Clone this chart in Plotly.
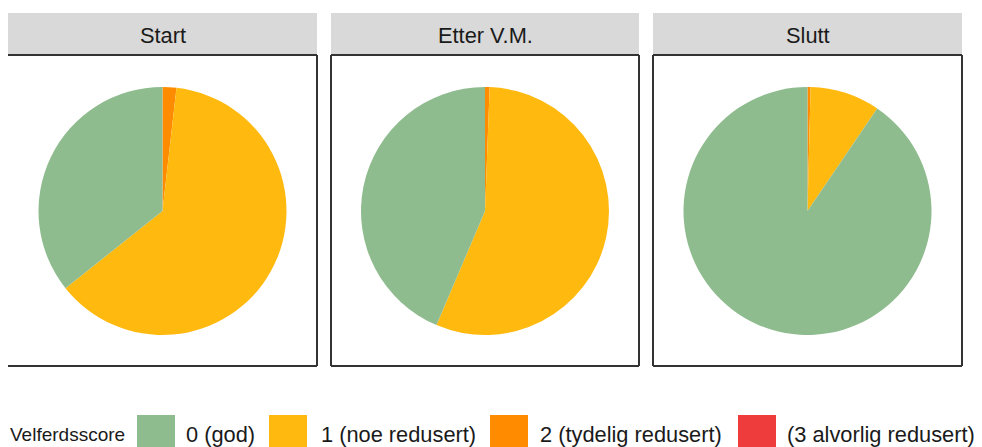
import plotly.graph_objects as go

W, H = 982, 447
OFF = 8  # page body margin: figure is drawn 8px right/down of the window origin

panels = ["Start", "Etter V.M.", "Slutt"]
categories = ["0 (god)", "1 (noe redusert)", "2 (tydelig redusert)", "(3 alvorlig redusert)"]
colors = ["#8FBC8F", "#FFB90F", "#FF8C00", "#EE3B3B"]
legend_title = "Velferdsscore"

# percentage share per welfare score, per panel (order follows categories)
start_vals = [35.7, 62.5, 1.8, 0.0]
etter_vals = [43.6, 55.8, 0.6, 0.0]
slutt_vals = [90.5, 9.1, 0.4, 0.0]
panel_vals = [start_vals, etter_vals, slutt_vals]

# layout in screen pixels
panel_x = [(8, 317), (331, 639), (653, 962)]
strip_top, strip_bot = 13, 55
panel_bot = 366
radius = 124
cy = 211

def px(x):
    return (x - OFF) / W

def py(y):
    return 1 - (y - OFF) / H

fig = go.Figure()
shapes = []
annotations = []
font_family = "Liberation Sans, Arial, sans-serif"
text_color = "#1A1A1A"
fs = 21.8

for i, (name, vals) in enumerate(zip(panels, panel_vals)):
    x0, x1 = panel_x[i]
    cx = (x0 + x1) / 2
    # slices drawn clockwise from 12 o'clock, highest score first
    order = list(range(len(categories)))[::-1]
    fig.add_trace(go.Pie(
        labels=[categories[k] for k in order],
        values=[vals[k] for k in order],
        marker=dict(colors=[colors[k] for k in order], line=dict(width=0)),
        sort=False,
        direction="clockwise",
        rotation=0,
        textinfo="none",
        showlegend=False,
        hovertemplate="%{label}: %{value}%<extra>" + name + "</extra>",
        domain=dict(x=[px(cx - radius), px(cx + radius)], y=[py(cy + radius), py(cy - radius)]),
    ))
    # strip
    shapes.append(dict(type="rect", xref="paper", yref="paper",
                       x0=px(x0), x1=px(x1), y0=py(strip_bot), y1=py(strip_top),
                       fillcolor="#D9D9D9", line=dict(width=0), layer="below"))
    annotations.append(dict(text=name, xref="paper", yref="paper",
                            x=px(cx), y=py((strip_top + strip_bot) / 2 + 1),
                            xanchor="center", yanchor="middle", showarrow=False,
                            font=dict(size=fs, family=font_family, color=text_color)))
    # panel border (left edge of first panel is cropped in the reference)
    lc = "#333333"
    lw = 2
    shapes.append(dict(type="line", xref="paper", yref="paper", x0=px(x0), x1=px(x1),
                       y0=py(strip_bot), y1=py(strip_bot), line=dict(color=lc, width=lw)))
    shapes.append(dict(type="line", xref="paper", yref="paper", x0=px(x0), x1=px(x1),
                       y0=py(panel_bot), y1=py(panel_bot), line=dict(color=lc, width=lw)))
    shapes.append(dict(type="line", xref="paper", yref="paper", x0=px(x1), x1=px(x1),
                       y0=py(strip_bot), y1=py(panel_bot), line=dict(color=lc, width=lw)))
    if i > 0:
        shapes.append(dict(type="line", xref="paper", yref="paper", x0=px(x0), x1=px(x0),
                           y0=py(strip_bot), y1=py(panel_bot), line=dict(color=lc, width=lw)))

# legend drawn manually (large ggplot-style keys)
leg_y = 434
annotations.append(dict(text=legend_title, xref="paper", yref="paper",
                        x=px(127), y=py(leg_y), xanchor="right", yanchor="middle",
                        showarrow=False, font=dict(size=19, family=font_family, color=text_color)))
key_x = [137, 269, 490, 738]
text_x = [184, 319, 538, 785]
for k, cat in enumerate(categories):
    shapes.append(dict(type="rect", xref="paper", yref="paper",
                       x0=px(key_x[k]), x1=px(key_x[k] + 38), y0=py(453), y1=py(415),
                       fillcolor=colors[k], line=dict(width=0)))
    annotations.append(dict(text=cat, xref="paper", yref="paper",
                            x=px(text_x[k]), y=py(leg_y), xanchor="left", yanchor="middle",
                            showarrow=False, font=dict(size=fs, family=font_family, color=text_color)))

fig.update_layout(
    width=W, height=H,
    margin=dict(l=0, r=0, t=0, b=0),
    paper_bgcolor="white",
    plot_bgcolor="white",
    shapes=shapes,
    annotations=annotations,
    showlegend=False,
)

fig.write_html("out.html")
